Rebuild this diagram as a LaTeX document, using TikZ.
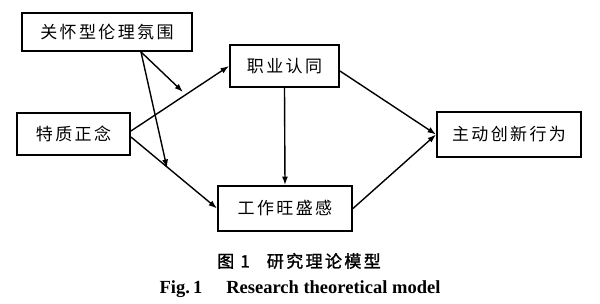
\documentclass[tikz,border=0pt]{standalone}
\usepackage{fontspec}
\setmainfont{Liberation Serif}
\newfontfamily\cjkesp{Noto Sans CJK SC}[LetterSpace=14]
\newfontfamily\cjkneg{Noto Sans CJK SC}[LetterSpace=14,FakeBold=1.5]
\usetikzlibrary{arrows.meta}

\begin{document}
\begin{tikzpicture}[x=1pt,y=-1pt,
  caja/.style={draw,line width=1.9pt,inner sep=0pt,font=\cjkesp\fontsize{17}{17}\selectfont},
  flecha/.style={line width=1.4pt,-{Latex[length=8.5pt,width=6pt]}}]

\useasboundingbox (0,0) rectangle (600,304);

\node[caja,minimum width=170pt,minimum height=38pt] (clima) at (107,32) {关怀型伦理氛围};     % moderadora
\node[caja,minimum width=113pt,minimum height=42pt] (mente) at (73.5,134) {特质正念};         % independiente
\node[caja,minimum width=109pt,minimum height=42pt] (ident) at (284.5,66) {职业认同};         % mediadora 1
\node[caja,minimum width=134pt,minimum height=45pt] (vigor) at (285,208.5) {工作旺盛感};      % mediadora 2
\node[caja,minimum width=144pt,minimum height=45pt] (innov) at (509,134.5) {主动创新行为};    % dependiente

\coordinate (m1) at (183,92);   % sobre mente -> ident
\coordinate (m2) at (167,168);  % sobre mente -> vigor

\draw[flecha] ([yshift=3pt]mente.east) -- (ident.west);
\draw[flecha] ([yshift=-3pt]mente.east) -- (vigor.west);
\draw[flecha] (ident.south) -- (vigor.north);
\draw[flecha] ([yshift=-5pt]ident.east) -- (innov.west);
\draw[flecha] (vigor.east) -- (innov.west);

\draw[flecha] ([xshift=34pt]clima.south) -- (m1);
\draw[flecha] ([xshift=34pt]clima.south) -- (m2);

\node (titulo) at (299,261) {\cjkneg\fontsize{17}{17}\selectfont 图 1\hspace{1em}研究理论模型};
\node (tituloen) at (300,289) {\bfseries\fontsize{18.5}{18.5}\selectfont Fig.\,1\hspace{1.3em}Research theoretical model};

\end{tikzpicture}
\end{document}
